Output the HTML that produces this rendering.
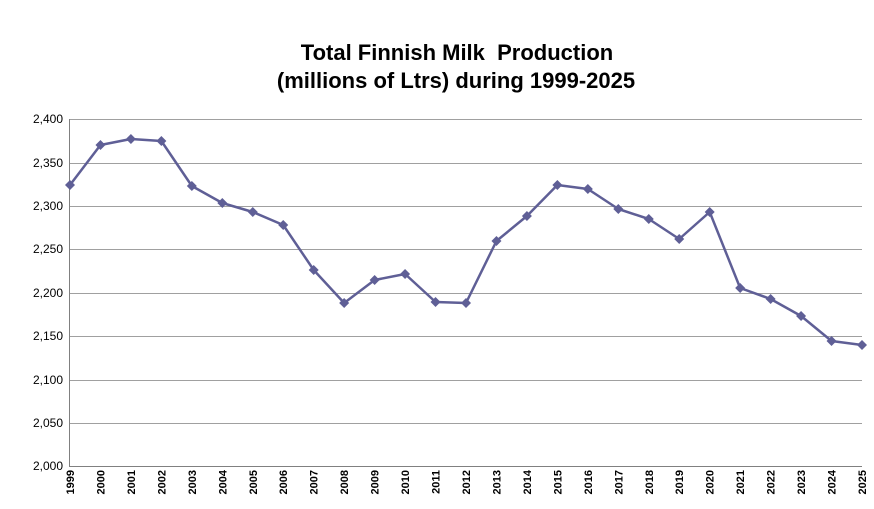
<!DOCTYPE html>
<html><head><meta charset="utf-8"><style>
body{margin:0;background:#fff;}
svg{display:block;font-family:"Liberation Sans",sans-serif;}
</style></head><body>
<svg width="874" height="509" viewBox="0 0 874 509">
<rect width="874" height="509" fill="#fff"/>
<text x="457" y="60" text-anchor="middle" font-size="22" font-weight="bold" fill="#000">Total Finnish Milk&#160; Production</text>
<text x="456" y="88" text-anchor="middle" font-size="22" font-weight="bold" fill="#000">(millions of Ltrs) during 1999-2025</text>
<g stroke="#a0a0a0" stroke-width="1">
<line x1="70" x2="862" y1="119.5" y2="119.5"/>
<line x1="70" x2="862" y1="163.5" y2="163.5"/>
<line x1="70" x2="862" y1="206.5" y2="206.5"/>
<line x1="70" x2="862" y1="249.5" y2="249.5"/>
<line x1="70" x2="862" y1="293.5" y2="293.5"/>
<line x1="70" x2="862" y1="336.5" y2="336.5"/>
<line x1="70" x2="862" y1="380.5" y2="380.5"/>
<line x1="70" x2="862" y1="423.5" y2="423.5"/>
</g>
<line x1="70" x2="862" y1="466.5" y2="466.5" stroke="#808080"/>
<line x1="69.5" x2="69.5" y1="119" y2="467" stroke="#808080"/>
<g font-size="12" text-anchor="end" fill="#000">
<text x="63" y="123">2,400</text><text x="63" y="167">2,350</text><text x="63" y="210">2,300</text>
<text x="63" y="253">2,250</text><text x="63" y="297">2,200</text><text x="63" y="340">2,150</text>
<text x="63" y="384">2,100</text><text x="63" y="427">2,050</text><text x="63" y="470">2,000</text>
</g>
<g id="xl" font-size="11" font-weight="bold" text-anchor="end" fill="#000"></g>
<polyline id="ln" fill="none" stroke="#5f5f96" stroke-width="2.5" stroke-linejoin="round"/>
<g id="mk" fill="#5f5f96"></g>
</svg>
<script>
var ys=[185,145,139,141,186,203,212,225,270,303,280,274,302,303,241,216,185,189,209,219,239,212,288,299,316,341,345];
var pts=[],xl=document.getElementById('xl'),mk=document.getElementById('mk'),ns="http://www.w3.org/2000/svg";
for(var i=0;i<ys.length;i++){var x=70+i*792/26;pts.push(x+','+ys[i]);
var t=document.createElementNS(ns,'text');t.setAttribute('transform','translate('+(x+4)+',470) rotate(-90)');t.textContent=1999+i;xl.appendChild(t);
var p=document.createElementNS(ns,'polygon');p.setAttribute('points',x+','+(ys[i]-5)+' '+(x+5)+','+ys[i]+' '+x+','+(ys[i]+5)+' '+(x-5)+','+ys[i]);mk.appendChild(p);}
document.getElementById('ln').setAttribute('points',pts.join(' '));
</script>
</body></html>
